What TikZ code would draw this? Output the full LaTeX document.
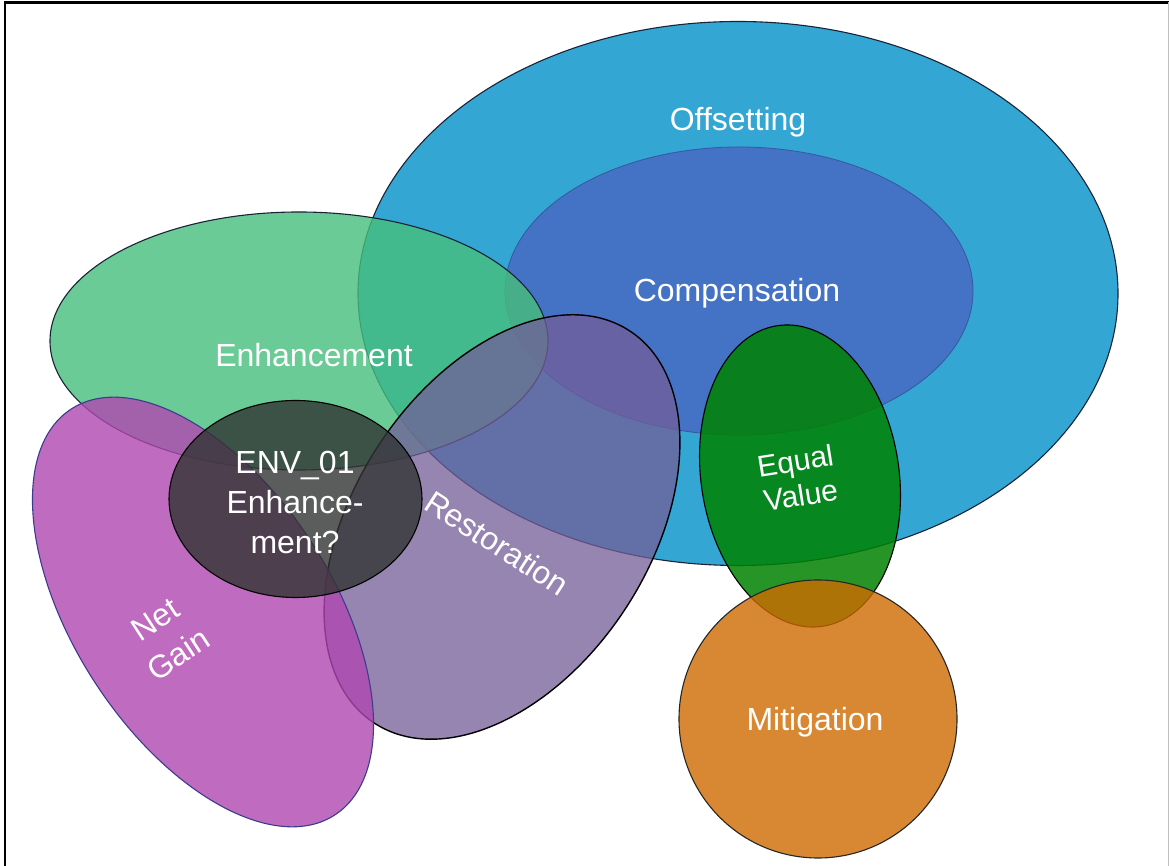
\documentclass[tikz,border=0pt]{standalone}
\usepackage{fontspec}
\setmainfont{Liberation Sans}
\definecolor{offc}{RGB}{52,166,212}
\definecolor{compc}{RGB}{68,114,196}
\definecolor{compe}{RGB}{50,90,160}
\definecolor{enhc}{RGB}{71,191,124}
\definecolor{netc}{RGB}{176,71,176}
\definecolor{nete}{RGB}{60,60,140}
\definecolor{resc}{RGB}{115,93,152}
\definecolor{envc}{RGB}{50,52,52}
\definecolor{eqc}{RGB}{0,130,0}
\definecolor{mitc}{RGB}{207,107,0}
\definecolor{edgec}{RGB}{25,35,55}
\tikzset{
  blob/.style={line width=1.1pt, draw=edgec},
  lbl/.style={text=white, font=\fontsize{32}{40}\selectfont, align=center, inner sep=0pt},
}
\begin{document}
\begin{tikzpicture}[x=1pt,y=1pt]
\useasboundingbox (0,0) rectangle (1169,866);
\fill[white] (0,0) rectangle (1169,866);
% frame
\draw[line width=2.5pt] (5,0) -- (5,863.5) -- (1169,863.5);
\draw[black!25, line width=1pt] (1168.5,863.5) -- (1168.5,0);

% Offsetting
\draw[blob, fill=offc] (738,572.5) ellipse [x radius=380, y radius=272];
% Compensation
\draw[line width=0.8pt, draw=compe, fill=compc] (739,575) ellipse [x radius=234, y radius=144];
% Enhancement
\draw[blob, fill=enhc, fill opacity=0.8] (299,525) ellipse [x radius=249, y radius=129];
% Restoration
\draw[blob, draw=black, line width=1.4pt, fill=resc, fill opacity=0.75, rotate around={-33:(502,339)}] (502,339) ellipse [x radius=148, y radius=234];
% Net Gain
\draw[blob, draw=nete, fill=netc, fill opacity=0.8, rotate around={33:(203,254)}] (203,254) ellipse [x radius=129, y radius=242];
% ENV_01
\draw[blob, draw=black, fill=envc, fill opacity=0.8] (295.5,367) ellipse [x radius=126.5, y radius=98.5];
% Equal Value
\draw[blob, draw=black, fill=eqc, fill opacity=0.85, rotate around={8.5:(800,390)}] (800,390) ellipse [x radius=99, y radius=152];
% Mitigation
\draw[blob, draw=black!85, fill=mitc, fill opacity=0.8] (818,147) circle [radius=139];

% labels
\node[lbl] (toff) at (738,744) {Offsetting};
\node[lbl] (tcomp) at (737,573) {Compensation};
\node[lbl] (tenh) at (314,511) {Enhancement};
\node[lbl] (tenv) at (295,364) {ENV\_01\\Enhance-\\ment?};
\node[lbl, rotate=-33] (tres) at (497,323) {Restoration};
\node[lbl, rotate=33, font=\fontsize{32}{42}\selectfont] (tnet) at (167,229) {Net\\Gain};
\node[lbl, rotate=9, font=\fontsize{30}{35}\selectfont] (teq) at (798,388) {Equal\\Value};
\node[lbl] (tmit) at (815,144) {Mitigation};
\end{tikzpicture}
\end{document}
